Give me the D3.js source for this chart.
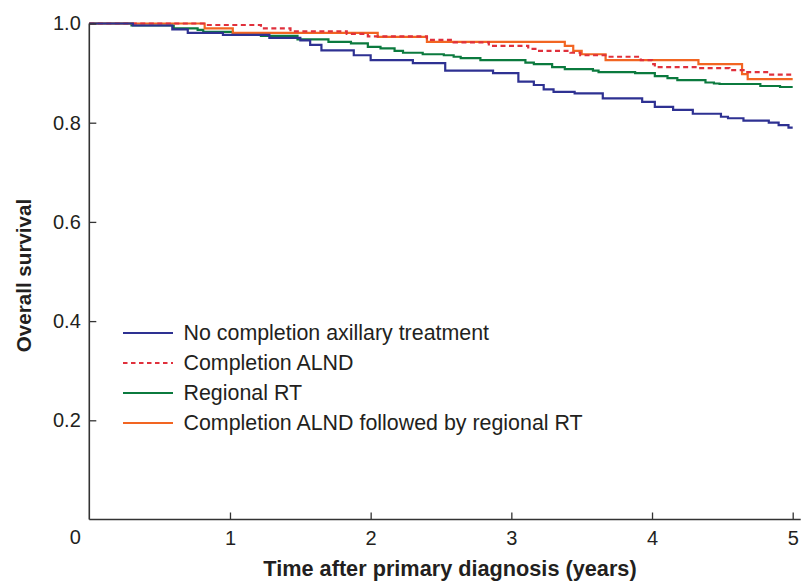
<!DOCTYPE html>
<html><head><meta charset="utf-8">
<script src="https://cdn.jsdelivr.net/npm/d3@7"></script>
<style>
body{margin:0;background:#fff;}
svg{display:block;font-family:"Liberation Sans",Arial,Helvetica,sans-serif;}
</style></head>
<body><svg id="chart" width="811" height="582"></svg>
<script>
// ---- data ----
const xTicks = [1, 2, 3, 4, 5];
const yTicks = [0.2, 0.4, 0.6, 0.8, 1.0];
const seriesNames = ["No completion axillary treatment", "Completion ALND", "Regional RT", "Completion ALND followed by regional RT"];
const seriesColors = ["#2e3192", "#e0303c", "#0b7a3e", "#f26522"];
const seriesDash = [null, "5,3.5", null, null];

const noneTime = [0, 0.31, 0.59, 0.70, 0.95, 1.28, 1.50, 1.57, 1.65, 1.88, 2.00, 2.30, 2.53, 2.87, 3.05, 3.16, 3.23, 3.30, 3.45, 3.65, 3.93, 4.02, 4.15, 4.29, 4.49, 4.54, 4.65, 4.83, 4.90, 4.97, 5.0];
const noneSurv = [1.0, 0.996, 0.988, 0.981, 0.977, 0.971, 0.966, 0.957, 0.946, 0.936, 0.926, 0.920, 0.905, 0.900, 0.883, 0.876, 0.867, 0.862, 0.859, 0.849, 0.842, 0.832, 0.826, 0.818, 0.812, 0.809, 0.804, 0.800, 0.795, 0.790, 0.790];

const alndTime = [0, 0.83, 1.22, 1.43, 1.83, 1.98, 2.40, 2.59, 2.84, 3.12, 3.18, 3.42, 3.49, 3.68, 3.92, 4.00, 4.02, 4.32, 4.55, 4.66, 4.84, 5.0];
const alndSurv = [1.0, 0.997, 0.990, 0.984, 0.979, 0.974, 0.967, 0.962, 0.955, 0.949, 0.945, 0.941, 0.936, 0.933, 0.926, 0.918, 0.912, 0.910, 0.906, 0.902, 0.897, 0.897];

const rtTime = [0, 0.30, 0.60, 0.77, 0.81, 1.02, 1.22, 1.48, 1.70, 1.86, 1.98, 2.07, 2.17, 2.23, 2.37, 2.52, 2.59, 2.64, 2.78, 3.10, 3.16, 3.29, 3.38, 3.58, 3.62, 3.88, 4.02, 4.11, 4.18, 4.38, 4.44, 4.48, 4.77, 4.91, 5.0];
const rtSurv = [1.0, 0.996, 0.990, 0.987, 0.983, 0.979, 0.975, 0.968, 0.963, 0.960, 0.953, 0.950, 0.945, 0.941, 0.938, 0.936, 0.933, 0.930, 0.926, 0.921, 0.918, 0.912, 0.908, 0.905, 0.902, 0.900, 0.894, 0.890, 0.886, 0.881, 0.879, 0.878, 0.874, 0.872, 0.872];

const bothTime = [0, 0.82, 1.02, 2.05, 2.40, 3.38, 3.44, 3.50, 3.67, 4.33, 4.64, 4.68, 5.0];
const bothSurv = [1.0, 0.990, 0.981, 0.973, 0.963, 0.955, 0.945, 0.938, 0.926, 0.918, 0.898, 0.888, 0.888];

const seriesTimes = [noneTime, alndTime, rtTime, bothTime];
const seriesSurvs = [noneSurv, alndSurv, rtSurv, bothSurv];

// ---- layout ----
const svg = d3.select("#chart");
const x = d3.scaleLinear().domain([0, 5]).range([89.3, 792.7]);
const y = d3.scaleLinear().domain([0, 1]).range([519.5, 23.5]);
const axisColor = "#333";
const textColor = "#231f20";

// curves
const line = d3.line().x(d => x(d[0])).y(d => y(d[1])).curve(d3.curveStepAfter);
const order = [2, 3, 1, 0];
const curvesG = svg.append("g");
order.forEach(i => {
  const pts = seriesTimes[i].map((t, j) => [t, seriesSurvs[i][j]]);
  curvesG.append("path")
    .attr("d", line(pts))
    .attr("fill", "none")
    .attr("stroke", seriesColors[i])
    .attr("stroke-width", 2.2)
    .attr("stroke-dasharray", seriesDash[i]);
});

// axes
const xAxis = d3.axisBottom(x).tickValues(xTicks).tickFormat(d3.format("d"))
  .tickSizeInner(-7).tickSizeOuter(0).tickPadding(11);
const gx = svg.append("g").attr("transform", `translate(0,${y(0)})`).call(xAxis);
gx.select(".domain").remove();
gx.selectAll(".tick line").attr("stroke", axisColor).attr("stroke-width", 1.3);
gx.selectAll(".tick text").attr("fill", textColor).style("font-size", "20px");

const yAxis = d3.axisLeft(y).tickValues(yTicks).tickFormat(d3.format(".1f"))
  .tickSizeInner(-7).tickSizeOuter(0).tickPadding(8.5);
const gy = svg.append("g").attr("transform", `translate(${x(0)},0)`).call(yAxis);
gy.select(".domain").remove();
gy.selectAll(".tick line").attr("stroke", axisColor).attr("stroke-width", 1.3);
gy.selectAll(".tick text").attr("fill", textColor).style("font-size", "20px");

// axis lines
svg.append("line").attr("x1", x(0)).attr("x2", x(5) + 8).attr("y1", y(0)).attr("y2", y(0))
  .attr("stroke", axisColor).attr("stroke-width", 1.6);
svg.append("line").attr("x1", x(0)).attr("x2", x(0)).attr("y1", y(0)).attr("y2", y(1))
  .attr("stroke", axisColor).attr("stroke-width", 1.6);

// origin label
svg.append("text").attr("x", x(0) - 14).attr("y", y(0) + 24.5).attr("text-anchor", "middle")
  .attr("fill", textColor).style("font-size", "20px").text("0");

// axis titles
svg.append("text").attr("x", (x(0) + x(5)) / 2 + 9).attr("y", 576).attr("text-anchor", "middle")
  .attr("fill", textColor).style("font-size", "21.7px").style("font-weight", "bold")
  .text("Time after primary diagnosis (years)");
svg.append("text").attr("transform", `translate(31,${(y(0) + y(1)) / 2 + 4}) rotate(-90)`)
  .attr("text-anchor", "middle").attr("fill", textColor)
  .style("font-size", "20.6px").style("font-weight", "bold").text("Overall survival");

// legend
const legendRows = [333, 363, 393, 423];
const lg = svg.append("g");
seriesNames.forEach((name, i) => {
  lg.append("line").attr("x1", 123).attr("x2", 173).attr("y1", legendRows[i]).attr("y2", legendRows[i])
    .attr("stroke", seriesColors[i]).attr("stroke-width", 2)
    .attr("stroke-dasharray", seriesDash[i] ? "4.5,3.5" : null);
  lg.append("text").attr("x", 183.5).attr("y", legendRows[i]).attr("dy", "0.35em")
    .attr("fill", textColor).style("font-size", "21.4px").text(name);
});
</script></body></html>
